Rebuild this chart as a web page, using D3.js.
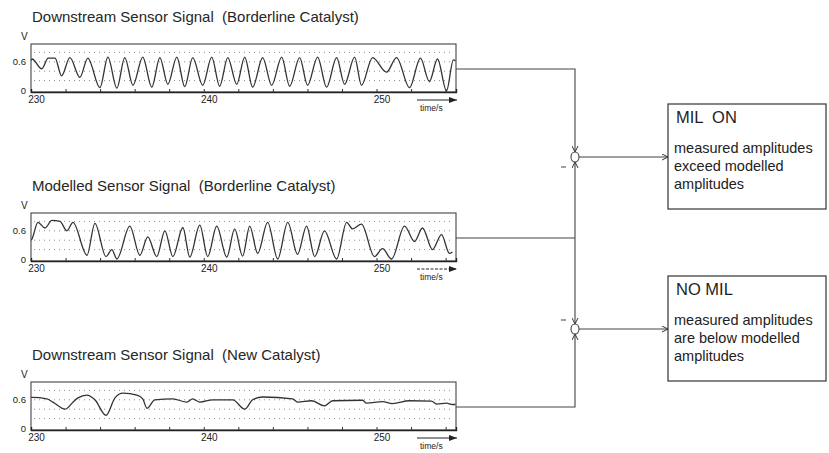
<!DOCTYPE html>
<html>
<head>
<meta charset="utf-8">
<script src="https://cdn.jsdelivr.net/npm/d3@7"></script>
<style>
  body { margin: 0; background: #fff; }
  svg { display: block; font-family: "Liberation Sans", Arial, Helvetica, sans-serif; }
  .keep { white-space: pre; }
</style>
</head>
<body>
<div id="chart"></div>
<script>
// titles and tick labels
var panelTitles = [
	"Downstream Sensor Signal  (Borderline Catalyst)",
	"Modelled Sensor Signal  (Borderline Catalyst)",
	"Downstream Sensor Signal  (New Catalyst)"
];
var timeLabels = [230, 240, 250];
var timeMinor = [232, 234, 236, 238, 240, 242, 244, 246, 248, 250, 252, 254];
var voltLabels = [0, 0.6];
var gridVolts = [0.2, 0.4, 0.6, 0.8];
var resultTitles = ["MIL  ON", "NO MIL"];
var resultLines = [
	["measured amplitudes", "exceed modelled", "amplitudes"],
	["measured amplitudes", "are below modelled", "amplitudes"]
];

// signal extrema: [time s, volts]
var measuredBorderline = [
	[230.0,0.62],[230.06,0.66],[230.62,0.45],[231.0,0.68],[231.39,0.68],[231.77,0.30],[232.25,0.69],
	[232.83,0.27],[233.29,0.68],[233.99,0.05],[234.45,0.70],[234.97,0.04],[235.43,0.69],
	[235.90,0.10],[236.47,0.70],[236.99,0.06],[237.46,0.69],[237.92,0.12],[238.44,0.70],
	[238.90,0.07],[239.36,0.69],[239.94,0.10],[240.46,0.70],[240.92,0.08],[241.39,0.69],
	[241.91,0.12],[242.37,0.70],[242.83,0.06],[243.41,0.69],[243.93,0.10],[244.51,0.70],
	[244.97,0.08],[245.55,0.69],[246.01,0.10],[246.59,0.70],[247.11,0.06],[247.69,0.69],
	[248.15,0.12],[248.73,0.70],[249.13,0.10],[249.77,0.69],[250.58,0.38],[251.16,0.69],
	[251.91,0.05],[252.54,0.68],[253.06,0.18],[253.53,0.66],[254.05,-0.02],[254.45,0.64],[254.57,0.62]
];
var modelledBorderline = [
	[230.0,0.40],[230.06,0.43],[230.40,0.78],[230.81,0.66],[231.21,0.82],[231.68,0.80],[232.08,0.60],
	[232.43,0.78],[233.24,0.08],[233.70,0.76],[234.34,0.05],[234.68,0.20],[234.97,0.00],
	[235.72,0.70],[236.30,0.08],[236.76,0.47],[237.28,0.05],[237.75,0.60],[238.21,0.05],
	[238.79,0.67],[239.19,0.04],[239.77,0.72],[240.23,0.05],[240.75,0.70],[241.33,0.04],
	[241.79,0.64],[242.25,0.06],[242.66,0.70],[243.12,0.12],[243.70,0.78],[244.28,0.00],
	[244.86,0.78],[245.43,0.10],[245.95,0.70],[246.42,0.05],[246.99,0.60],[247.69,0.00],
	[248.27,0.78],[248.61,0.64],[249.13,0.74],[249.88,0.05],[250.35,0.22],[250.87,0.00],
	[251.62,0.70],[252.20,0.37],[252.66,0.66],[253.24,0.20],[253.76,0.52],[254.22,0.12],[254.39,0.15]
];
var measuredNew = [
	[230.0,0.65],[230.06,0.65],[230.92,0.62],[231.27,0.55],[231.97,0.40],[232.43,0.55],[232.72,0.64],
	[233.24,0.70],[233.70,0.60],[234.34,0.27],[234.86,0.64],[235.32,0.74],[236.13,0.70],
	[236.47,0.62],[236.71,0.42],[237.17,0.60],[238.21,0.62],[239.02,0.55],[239.36,0.62],
	[239.77,0.55],[240.52,0.60],[241.68,0.60],[242.37,0.40],[242.83,0.60],[243.41,0.66],
	[245.14,0.62],[245.43,0.55],[246.24,0.58],[246.99,0.47],[247.46,0.58],[249.19,0.59],
	[249.42,0.53],[250.35,0.56],[250.92,0.52],[251.91,0.58],[253.18,0.57],[253.47,0.51],
	[254.05,0.53],[254.39,0.50],[254.57,0.50]
];

var series = [measuredBorderline, modelledBorderline, measuredNew];

var W = 829, H = 453;
var left = 31, right = 456, boxH = 48;
var panelTops = [44, 213, 382];

var svg = d3.select("#chart").append("svg")
	.attr("width", W)
	.attr("height", H);

var defs = svg.append("defs");
defs.append("marker")
	.attr("id", "solidArrow")
	.attr("viewBox", "0 0 8 6")
	.attr("refX", 8).attr("refY", 3)
	.attr("markerWidth", 8).attr("markerHeight", 6)
	.attr("markerUnits", "userSpaceOnUse")
	.attr("orient", "auto")
	.append("path")
	.attr("d", "M0,0 L8,3 L0,6 Z")
	.attr("fill", "#222");
defs.append("marker")
	.attr("id", "openArrow")
	.attr("viewBox", "0 0 7 7")
	.attr("refX", 6.5).attr("refY", 3.5)
	.attr("markerWidth", 7).attr("markerHeight", 7)
	.attr("markerUnits", "userSpaceOnUse")
	.attr("orient", "auto")
	.append("path")
	.attr("d", "M0.5,0.5 L6.5,3.5 L0.5,6.5")
	.attr("fill", "none")
	.attr("stroke", "#333")
	.attr("stroke-width", 1);

var x = d3.scaleLinear().domain([230, 254.6]).range([left, right]);

var line = d3.line()
	.x(function(d) { return x(d[0]); })
	.curve(d3.curveMonotoneX);

panelTops.forEach(function(top, i) {
	var y = d3.scaleLinear().domain([0, 1]).range([top + 46, top - 1]);
	var bottom = top + boxH;
	var g = svg.append("g").attr("class", "panel");

	g.append("text")
		.attr("class", "keep")
		.attr("x", left + 1)
		.attr("y", top - 22)
		.attr("font-size", 15)
		.attr("fill", "#262626")
		.text(panelTitles[i]);

	// dotted grid
	g.selectAll("line.grid")
		.data(gridVolts)
		.enter()
		.append("line")
		.attr("class", "grid")
		.attr("x1", left + 3).attr("x2", right - 3)
		.attr("y1", function(d) { return y(d); })
		.attr("y2", function(d) { return y(d); })
		.attr("stroke", "#8a8a8a")
		.attr("stroke-width", 1)
		.attr("stroke-dasharray", "1,4");

	g.append("clipPath")
		.attr("id", "clip" + i)
		.append("rect")
		.attr("x", left).attr("y", top)
		.attr("width", right - left).attr("height", boxH);

	g.append("path")
		.datum(series[i])
		.attr("clip-path", "url(#clip" + i + ")")
		.attr("d", line.y(function(d) { return y(d[1]); }))
		.attr("fill", "none")
		.attr("stroke", "#333")
		.attr("stroke-width", 1.3);

	g.append("rect")
		.attr("x", left).attr("y", top)
		.attr("width", right - left).attr("height", boxH)
		.attr("fill", "none")
		.attr("stroke", "#444")
		.attr("stroke-width", 1.1);

	// minor ticks pointing inwards
	g.append("g")
		.attr("transform", "translate(0," + bottom + ")")
		.call(d3.axisBottom(x).tickValues(timeMinor).tickSize(-3).tickFormat(""))
		.call(function(a) {
			a.select(".domain").attr("stroke", "#222").attr("stroke-width", 1.4);
			a.selectAll(".tick line").attr("stroke", "#333");
		});

	// time labels
	g.append("g")
		.attr("transform", "translate(0," + bottom + ")")
		.call(d3.axisBottom(x).tickValues(timeLabels).tickSize(0).tickPadding(4).tickFormat(d3.format("d")))
		.call(function(a) {
			a.select(".domain").remove();
			a.selectAll("text")
				.attr("font-family", "Liberation Sans, Arial, sans-serif")
				.attr("font-size", 10)
				.attr("dx", 5)
				.attr("fill", "#222");
		});

	// volt labels
	g.append("g")
		.attr("transform", "translate(" + left + ",0)")
		.call(d3.axisLeft(y).tickValues(voltLabels).tickSize(0).tickPadding(5)
			.tickFormat(function(d) { return d === 0 ? "0" : "0.6"; }))
		.call(function(a) {
			a.select(".domain").remove();
			a.selectAll("text")
				.attr("font-family", "Liberation Sans, Arial, sans-serif")
				.attr("font-size", 9.5)
				.attr("fill", "#222");
		});

	g.append("text")
		.attr("x", 21).attr("y", top - 4)
		.attr("font-size", 10)
		.attr("fill", "#222")
		.text("V");

	// time/s arrow
	g.append("line")
		.attr("x1", 417).attr("x2", 457)
		.attr("y1", bottom + 8).attr("y2", bottom + 8)
		.attr("stroke", "#222")
		.attr("stroke-width", 1)
		.attr("stroke-dasharray", i === 1 ? "3,1.5" : null)
		.attr("marker-end", "url(#solidArrow)");
	g.append("text")
		.attr("x", 420).attr("y", bottom + 19)
		.attr("font-size", 8.5)
		.attr("fill", "#222")
		.text("time/s");
});

// signal flow on the right
var busX = 575;
var outY = panelTops.map(function(t) { return t + 25; });
var boxX = 668, boxW = 158, boxHt = 105;
var boxTops = [104, 276];
var junctionY = boxTops.map(function(t) { return t + 53; });
var flow = svg.append("g").attr("stroke", "#444").attr("fill", "none").attr("stroke-width", 1.1);

flow.append("path")
	.attr("d", "M" + right + "," + outY[0] + " H" + busX + " V" + (junctionY[0] - 5))
	.attr("marker-end", "url(#openArrow)");
flow.append("path")
	.attr("d", "M" + right + "," + outY[1] + " H" + busX);
flow.append("path")
	.attr("d", "M" + busX + "," + outY[1] + " V" + (junctionY[0] + 5))
	.attr("marker-end", "url(#openArrow)");
flow.append("path")
	.attr("d", "M" + busX + "," + outY[1] + " V" + (junctionY[1] - 5))
	.attr("marker-end", "url(#openArrow)");
flow.append("path")
	.attr("d", "M" + right + "," + outY[2] + " H" + busX + " V" + (junctionY[1] + 5))
	.attr("marker-end", "url(#openArrow)");

junctionY.forEach(function(jy, i) {
	flow.append("ellipse")
		.attr("cx", busX).attr("cy", jy)
		.attr("rx", 4).attr("ry", 5)
		.attr("fill", "#fff");
	flow.append("path")
		.attr("d", "M" + (busX + 4) + "," + jy + " H" + boxX)
		.attr("marker-end", "url(#openArrow)");
	flow.append("line")
		.attr("x1", busX - 14).attr("x2", busX - 9)
		.attr("y1", i === 0 ? jy + 10 : jy - 9)
		.attr("y2", i === 0 ? jy + 10 : jy - 9)
		.attr("stroke-width", 1);

	var b = svg.append("g");
	b.append("rect")
		.attr("x", boxX).attr("y", boxTops[i])
		.attr("width", boxW).attr("height", boxHt)
		.attr("fill", "none")
		.attr("stroke", "#333")
		.attr("stroke-width", 1.2);
	b.append("text")
		.attr("class", "keep")
		.attr("x", boxX + 8).attr("y", boxTops[i] + 19)
		.attr("font-size", 16.5)
		.attr("fill", "#1e1e1e")
		.text(resultTitles[i]);
	b.selectAll("text.body")
		.data(resultLines[i])
		.enter()
		.append("text")
		.attr("class", "body")
		.attr("x", boxX + 6)
		.attr("y", function(d, k) { return boxTops[i] + 49 + k * 18; })
		.attr("font-size", 14.5)
		.attr("fill", "#222")
		.text(function(d) { return d; });
});
</script>
</body>
</html>
